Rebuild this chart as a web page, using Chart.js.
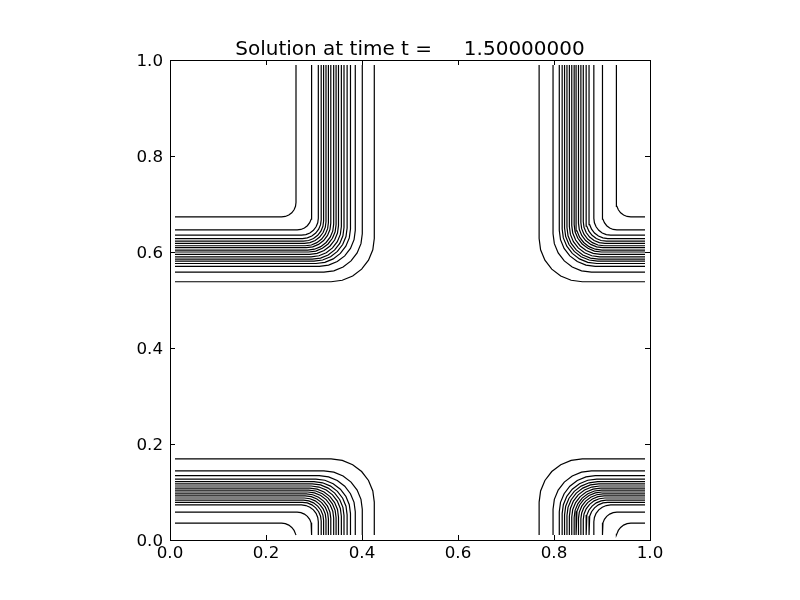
<!DOCTYPE html>
<html>
<head>
<meta charset="utf-8">
<title>Solution at time t</title>
<script src="https://cdn.jsdelivr.net/npm/chart.js@4/dist/chart.umd.min.js"></script>
<style>
  body { margin: 0; background: #fff; }
  canvas { display: block; }
</style>
</head>
<body>
<canvas id="myChart" width="800" height="600"></canvas>
<script>
// contour levels, each list goes from the outermost contour (nearest the middle) to the innermost
var leftX   = [0.4256, 0.4006, 0.386, 0.376, 0.369, 0.3625, 0.357, 0.351, 0.346, 0.341, 0.335, 0.330, 0.325, 0.320, 0.315, 0.309, 0.295, 0.2625];
var rightX  = [0.769, 0.798, 0.811, 0.817, 0.822, 0.827, 0.832, 0.837, 0.842, 0.846, 0.851, 0.856, 0.861, 0.867, 0.873, 0.883, 0.901, 0.930];
var topY    = [0.538, 0.558, 0.570, 0.576, 0.581, 0.585, 0.590, 0.595, 0.600, 0.604, 0.609, 0.613, 0.618, 0.6225, 0.628, 0.635, 0.646, 0.673];
var bottomY = [0.169, 0.144, 0.134, 0.127, 0.1215, 0.117, 0.1125, 0.108, 0.104, 0.100, 0.096, 0.092, 0.0875, 0.083, 0.0785, 0.073, 0.058, 0.035];
// how far the bend of each contour reaches before the corner
var cornerR = [0.09, 0.08, 0.075, 0.072, 0.069, 0.066, 0.063, 0.06, 0.057, 0.054, 0.051, 0.048, 0.045, 0.042, 0.039, 0.035, 0.03, 0.03];

var tickValues = [0.0, 0.2, 0.4, 0.6, 0.8, 1.0];
var titleText = 'Solution at time t =     1.50000000';

// grid edges (cell centres)
var lo = 0.0104, hi = 0.9896;

function clampY(v) { return Math.min(hi, Math.max(lo, v)); }

// one L shaped contour: horizontal leg from the side edge, rounded bend, vertical leg to top/bottom edge
function contour(x, y, r, dirX, dirY) {
  var xEdge = dirX > 0 ? lo : hi;
  var yEdge = dirY > 0 ? hi : lo;
  var pts = [{x: xEdge, y: y}];
  var cx = x - dirX * r, cy = y + dirY * r;
  for (var k = 0; k <= 6; k++) {
    var th = k / 6 * Math.PI / 2;
    pts.push({x: cx + dirX * r * Math.sin(th), y: clampY(cy - dirY * r * Math.cos(th))});
  }
  pts.push({x: x, y: yEdge});
  return pts;
}

var datasets = [];
function addQuadrant(xs, ys, dirX, dirY) {
  for (var i = 0; i < xs.length; i++) {
    datasets.push({
      data: contour(xs[i], ys[i], cornerR[i], dirX, dirY),
      showLine: true,
      borderColor: '#000',
      borderWidth: 1.2,
      pointRadius: 0,
      fill: false,
      tension: 0
    });
  }
}
addQuadrant(leftX, topY, 1, 1);
addQuadrant(rightX, topY, -1, 1);
addQuadrant(leftX, bottomY, 1, -1);
addQuadrant(rightX, bottomY, -1, -1);

// frame, inward ticks on all four sides and the title
var framePlugin = {
  id: 'frame',
  afterDraw: function(chart) {
    var ctx = chart.ctx, a = chart.chartArea;
    var xs = chart.scales.x, ys = chart.scales.y;
    ctx.save();
    ctx.strokeStyle = '#000';
    ctx.lineWidth = 1;
    ctx.strokeRect(Math.round(a.left) + 0.5, Math.round(a.top) + 0.5, Math.round(a.right - a.left), Math.round(a.bottom - a.top));
    ctx.beginPath();
    tickValues.forEach(function(v) {
      var px = Math.round(xs.getPixelForValue(v)) + 0.5;
      ctx.moveTo(px, a.bottom); ctx.lineTo(px, a.bottom - 5);
      ctx.moveTo(px, a.top); ctx.lineTo(px, a.top + 5);
      var py = Math.round(ys.getPixelForValue(v)) + 0.5;
      ctx.moveTo(a.left, py); ctx.lineTo(a.left + 5, py);
      ctx.moveTo(a.right, py); ctx.lineTo(a.right - 5, py);
    });
    ctx.stroke();
    ctx.fillStyle = '#000';
    ctx.font = '20px "DejaVu Sans"';
    ctx.textAlign = 'center';
    ctx.textBaseline = 'alphabetic';
    ctx.fillText(titleText, (a.left + a.right) / 2, 55);
    ctx.restore();
  }
};

var tickFont = { family: '"DejaVu Sans"', size: 16.7 };

var ctx = document.getElementById('myChart');
var myChart = new Chart(ctx, {
  type: 'scatter',
  data: { datasets: datasets },
  options: {
    responsive: false,
    animation: false,
    layout: { padding: { left: 0, right: 150, top: 60, bottom: 0 } },
    plugins: {
      legend: { display: false },
      tooltip: { enabled: false }
    },
    scales: {
      x: {
        type: 'linear',
        min: 0, max: 1,
        grid: { display: false, drawTicks: false },
        border: { display: false },
        ticks: {
          stepSize: 0.2, padding: 4, color: '#000', font: tickFont, maxRotation: 0,
          callback: function(v) { return v.toFixed(1); }
        },
        afterFit: function(s) { s.height = 60; }
      },
      y: {
        type: 'linear',
        min: 0, max: 1,
        grid: { display: false, drawTicks: false },
        border: { display: false },
        ticks: {
          stepSize: 0.2, padding: 7, labelOffset: 2, color: '#000', font: tickFont,
          callback: function(v) { return v.toFixed(1); }
        },
        afterFit: function(s) { s.width = 170; }
      }
    }
  },
  plugins: [framePlugin]
});
</script>
</body>
</html>
